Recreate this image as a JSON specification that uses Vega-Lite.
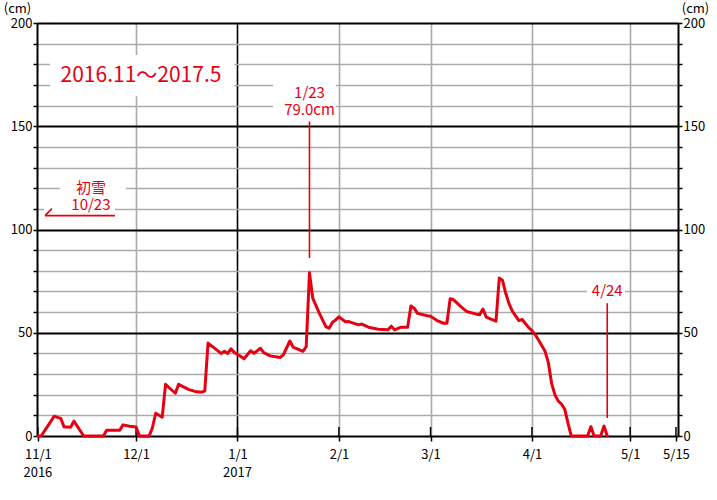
{
  "$schema": "https://vega.github.io/schema/vega-lite/v6.json",
  "width": 641,
  "height": 413,
  "autosize": {"type": "none"},
  "padding": {"left": 37, "top": 23, "right": 39, "bottom": 64},
  "background": "white",
  "config": {
    "view": {"stroke": null},
    "font": "Noto Sans CJK JP",
    "axis": {"labelFont": "Noto Sans CJK JP", "titleFont": "Noto Sans CJK JP", "labelColor": "#000", "titleColor": "#000"}
  },
  "datasets": {
    "snow": [
      {"date": "2016-11-01", "cm": 0}, {"date": "2016-11-02", "cm": 0}, {"date": "2016-11-04", "cm": 4.8},
      {"date": "2016-11-06", "cm": 9.6}, {"date": "2016-11-07", "cm": 9}, {"date": "2016-11-08", "cm": 8.5},
      {"date": "2016-11-09", "cm": 4.4}, {"date": "2016-11-10", "cm": 4.3}, {"date": "2016-11-11", "cm": 4.2},
      {"date": "2016-11-12", "cm": 7.2}, {"date": "2016-11-15", "cm": 0}, {"date": "2016-11-21", "cm": 0},
      {"date": "2016-11-22", "cm": 2.8}, {"date": "2016-11-26", "cm": 2.8}, {"date": "2016-11-27", "cm": 5.4},
      {"date": "2016-11-29", "cm": 4.7}, {"date": "2016-12-01", "cm": 4.4}, {"date": "2016-12-02", "cm": 0},
      {"date": "2016-12-05", "cm": 0}, {"date": "2016-12-06", "cm": 4}, {"date": "2016-12-07", "cm": 11},
      {"date": "2016-12-09", "cm": 9.1}, {"date": "2016-12-10", "cm": 25}, {"date": "2016-12-13", "cm": 20.7},
      {"date": "2016-12-14", "cm": 25}, {"date": "2016-12-17", "cm": 22.6}, {"date": "2016-12-19", "cm": 21.6},
      {"date": "2016-12-21", "cm": 21.2}, {"date": "2016-12-22", "cm": 21.8}, {"date": "2016-12-23", "cm": 45},
      {"date": "2016-12-27", "cm": 40}, {"date": "2016-12-28", "cm": 41}, {"date": "2016-12-29", "cm": 40},
      {"date": "2016-12-30", "cm": 42.2}, {"date": "2016-12-31", "cm": 40.5}, {"date": "2017-01-01", "cm": 39.5},
      {"date": "2017-01-02", "cm": 38.5}, {"date": "2017-01-03", "cm": 37.4}, {"date": "2017-01-05", "cm": 41.3},
      {"date": "2017-01-06", "cm": 40}, {"date": "2017-01-08", "cm": 42.5}, {"date": "2017-01-09", "cm": 40.4},
      {"date": "2017-01-11", "cm": 38.8}, {"date": "2017-01-14", "cm": 38}, {"date": "2017-01-15", "cm": 39.3},
      {"date": "2017-01-17", "cm": 46}, {"date": "2017-01-18", "cm": 43}, {"date": "2017-01-21", "cm": 41},
      {"date": "2017-01-22", "cm": 43.3}, {"date": "2017-01-23", "cm": 79}, {"date": "2017-01-24", "cm": 66.8},
      {"date": "2017-01-26", "cm": 59.5}, {"date": "2017-01-28", "cm": 53}, {"date": "2017-01-29", "cm": 52.2},
      {"date": "2017-01-30", "cm": 55}, {"date": "2017-01-31", "cm": 56.2}, {"date": "2017-02-01", "cm": 57.7},
      {"date": "2017-02-03", "cm": 55.3}, {"date": "2017-02-04", "cm": 55.4}, {"date": "2017-02-07", "cm": 53.8},
      {"date": "2017-02-08", "cm": 54.2}, {"date": "2017-02-10", "cm": 52.7}, {"date": "2017-02-13", "cm": 51.7},
      {"date": "2017-02-16", "cm": 51.4}, {"date": "2017-02-17", "cm": 53.2}, {"date": "2017-02-18", "cm": 51.4},
      {"date": "2017-02-20", "cm": 52.7}, {"date": "2017-02-22", "cm": 52.7}, {"date": "2017-02-23", "cm": 63},
      {"date": "2017-02-24", "cm": 61.9}, {"date": "2017-02-25", "cm": 59.4}, {"date": "2017-02-28", "cm": 58.2},
      {"date": "2017-03-01", "cm": 58}, {"date": "2017-03-03", "cm": 55.9}, {"date": "2017-03-05", "cm": 54.6},
      {"date": "2017-03-06", "cm": 54.6}, {"date": "2017-03-07", "cm": 66.5}, {"date": "2017-03-08", "cm": 66},
      {"date": "2017-03-10", "cm": 63}, {"date": "2017-03-12", "cm": 60.3}, {"date": "2017-03-15", "cm": 59},
      {"date": "2017-03-16", "cm": 58.7}, {"date": "2017-03-17", "cm": 61.5}, {"date": "2017-03-18", "cm": 57.6},
      {"date": "2017-03-21", "cm": 55.6}, {"date": "2017-03-22", "cm": 76.5}, {"date": "2017-03-23", "cm": 75.3},
      {"date": "2017-03-24", "cm": 69}, {"date": "2017-03-25", "cm": 64}, {"date": "2017-03-26", "cm": 60.5},
      {"date": "2017-03-28", "cm": 55.9}, {"date": "2017-03-29", "cm": 56.4}, {"date": "2017-03-31", "cm": 52.5},
      {"date": "2017-04-01", "cm": 51}, {"date": "2017-04-02", "cm": 49}, {"date": "2017-04-03", "cm": 46.5},
      {"date": "2017-04-05", "cm": 41}, {"date": "2017-04-06", "cm": 35.5}, {"date": "2017-04-07", "cm": 25.5},
      {"date": "2017-04-08", "cm": 20}, {"date": "2017-04-09", "cm": 17}, {"date": "2017-04-10", "cm": 15.5},
      {"date": "2017-04-11", "cm": 13}, {"date": "2017-04-12", "cm": 6.2}, {"date": "2017-04-13", "cm": 0},
      {"date": "2017-04-18", "cm": 0}, {"date": "2017-04-19", "cm": 4.5}, {"date": "2017-04-20", "cm": 0},
      {"date": "2017-04-22", "cm": 0}, {"date": "2017-04-23", "cm": 4.8}, {"date": "2017-04-24", "cm": 0}
    ],
    "boxes": [
      {"start": "2016-11-04T17:00:00Z", "end": "2016-12-31T00:00:00Z", "lo": 164.5, "hi": 184.5},
      {"start": "2016-11-07T18:00:00Z", "end": "2016-11-27T22:00:00Z", "lo": 116.5, "hi": 127.5},
      {"start": "2016-11-02T21:00:00Z", "end": "2016-11-24T13:00:00Z", "lo": 108.3, "hi": 116.5},
      {"start": "2017-01-11T20:00:00Z", "end": "2017-01-31T02:00:00Z", "lo": 153, "hi": 172.5},
      {"start": "2017-04-17T19:00:00Z", "end": "2017-04-29T10:00:00Z", "lo": 66, "hi": 75}
    ],
    "ticks": [
      {"date": "2016-11-01"}, {"date": "2016-12-01"}, {"date": "2017-01-01"}, {"date": "2017-02-01"},
      {"date": "2017-03-01"}, {"date": "2017-04-01"}, {"date": "2017-05-01"}, {"date": "2017-05-15"}
    ],
    "years": [
      {"date": "2016-11-01", "cm": -17.9, "label": "2016"},
      {"date": "2017-01-01", "cm": -17.9, "label": "2017"}
    ],
    "leaders": [
      {"x1": "2017-01-23", "x2": "2017-01-23", "y1": 86.2, "y2": 152.3},
      {"x1": "2017-04-24", "x2": "2017-04-24", "y1": 8.7, "y2": 64.3},
      {"x1": "2016-11-03T04:00:00Z", "x2": "2016-11-24T13:00:00Z", "y1": 106.7, "y2": 106.7},
      {"x1": "2016-11-03T04:00:00Z", "x2": "2016-11-05T07:00:00Z", "y1": 106.7, "y2": 110.1}
    ],
    "labels": [
      {"date": "2016-11-17T05:00:00Z", "cm": 120, "label": "初雪"},
      {"date": "2016-11-17T05:00:00Z", "cm": 112, "label": "10/23"},
      {"date": "2017-01-23", "cm": 166, "label": "1/23"},
      {"date": "2017-01-23", "cm": 157.7, "label": "79.0cm"},
      {"date": "2017-04-24", "cm": 70, "label": "4/24"}
    ],
    "title": [
      {"date": "2016-12-02T12:00:00Z", "cm": 174.5, "label": "2016.11～2017.5"}
    ]
  },
  "layer": [
    {
      "data": {"name": "boxes"},
      "mark": {"type": "rect", "color": "white"},
      "encoding": {
        "x": {
          "field": "start", "type": "temporal", "title": null, "axis": null,
          "scale": {"type": "utc", "nice": false,
            "domain": [{"year": 2016, "month": 10, "date": 31, "hours": 17, "minutes": 24, "utc": true},
                       {"year": 2017, "month": 5, "date": 15, "hours": 15, "utc": true}]}
        },
        "x2": {"field": "end"},
        "y": {
          "field": "lo", "type": "quantitative", "title": "(cm)",
          "scale": {"domain": [0, 200], "nice": false, "zero": false},
          "axis": {
            "orient": "left",
            "values": [0, 10, 20, 30, 40, 50, 60, 70, 80, 90, 100, 110, 120, 130, 140, 150, 160, 170, 180, 190, 200],
            "grid": true,
            "gridColor": {"condition": {"test": "datum.value % 50 == 0", "value": "#000000"}, "value": "#aaaaaa"},
            "gridWidth": {"condition": {"test": "datum.value % 50 == 0", "value": 2}, "value": 1.5},
            "domain": true, "domainColor": "#000000", "domainWidth": 2,
            "tickSize": 4, "tickColor": "#000000", "tickWidth": 1.5,
            "labelExpr": "datum.value % 50 == 0 ? datum.label : ''",
            "labelFontSize": 13, "labelPadding": 1,
            "titleAngle": 0, "titleX": -20, "titleY": -15, "titleAlign": "center", "titleBaseline": "middle",
            "titleFontWeight": "normal", "titleFontSize": 13
          }
        },
        "y2": {"field": "hi"}
      }
    },
    {
      "data": {"name": "ticks"},
      "mark": {"type": "rule", "color": "#000000", "strokeWidth": 1.5},
      "encoding": {
        "x": {"field": "date", "type": "temporal", "title": null,
          "scale": {"type": "utc", "nice": false,
            "domain": [{"year": 2016, "month": 10, "date": 31, "hours": 17, "minutes": 24, "utc": true},
                       {"year": 2017, "month": 5, "date": 15, "hours": 15, "utc": true}]},
          "axis": {
            "orient": "bottom",
            "values": [1477958400000, 1480550400000, 1483228800000, 1485907200000, 1488326400000, 1491004800000, 1493596800000, 1494806400000],
            "grid": true,
            "gridColor": {"condition": {"test": "utcmonth(datum.value) == 0", "value": "#000000"}, "value": "#aaaaaa"},
            "gridWidth": {"condition": {"test": "utcmonth(datum.value) == 10 || utcdate(datum.value) == 15", "value": 0}, "value": 1.6},
            "domain": false,
            "tickSize": 5, "tickColor": "#000000", "tickWidth": 1.5,
            "labelExpr": "(utcmonth(datum.value) + 1) + '/' + utcdate(datum.value)",
            "labelFontSize": 13, "labelPadding": 7, "labelFlush": false, "labelOverlap": false
          }
        },
        "y": {"datum": 0, "type": "quantitative", "axis": null, "scale": {"domain": [0, 200], "nice": false, "zero": false}},
        "y2": {"datum": 4.4}
      }
    },
    {
      "data": {"name": "years"},
      "mark": {"type": "text", "color": "#000000", "fontSize": 13, "align": "center", "baseline": "middle", "font": "Noto Sans CJK JP"},
      "encoding": {
        "x": {"field": "date", "type": "temporal", "title": null, "axis": null,
          "scale": {"type": "utc", "nice": false,
            "domain": [{"year": 2016, "month": 10, "date": 31, "hours": 17, "minutes": 24, "utc": true},
                       {"year": 2017, "month": 5, "date": 15, "hours": 15, "utc": true}]}},
        "y": {"field": "cm", "type": "quantitative", "title": null, "axis": null, "scale": {"domain": [0, 200], "nice": false, "zero": false}},
        "text": {"field": "label"}
      }
    },
    {
      "data": {"name": "leaders"},
      "mark": {"type": "rule", "color": "#e60012", "strokeWidth": 1.6},
      "encoding": {
        "x": {"field": "x1", "type": "temporal", "title": null, "axis": null,
          "scale": {"type": "utc", "nice": false,
            "domain": [{"year": 2016, "month": 10, "date": 31, "hours": 17, "minutes": 24, "utc": true},
                       {"year": 2017, "month": 5, "date": 15, "hours": 15, "utc": true}]}},
        "x2": {"field": "x2"},
        "y": {"field": "y1", "type": "quantitative", "title": null, "axis": null, "scale": {"domain": [0, 200], "nice": false, "zero": false}},
        "y2": {"field": "y2"}
      }
    },
    {
      "data": {"name": "labels"},
      "mark": {"type": "text", "color": "#e60012", "fontSize": 15, "align": "center", "baseline": "middle", "font": "Noto Sans CJK JP"},
      "encoding": {
        "x": {"field": "date", "type": "temporal", "title": null, "axis": null,
          "scale": {"type": "utc", "nice": false,
            "domain": [{"year": 2016, "month": 10, "date": 31, "hours": 17, "minutes": 24, "utc": true},
                       {"year": 2017, "month": 5, "date": 15, "hours": 15, "utc": true}]}},
        "y": {"field": "cm", "type": "quantitative", "title": null, "axis": null, "scale": {"domain": [0, 200], "nice": false, "zero": false}},
        "text": {"field": "label"}
      }
    },
    {
      "data": {"name": "title"},
      "mark": {"type": "text", "color": "#e60012", "fontSize": 21, "align": "center", "baseline": "middle", "font": "Noto Sans CJK JP"},
      "encoding": {
        "x": {"field": "date", "type": "temporal", "title": null, "axis": null,
          "scale": {"type": "utc", "nice": false,
            "domain": [{"year": 2016, "month": 10, "date": 31, "hours": 17, "minutes": 24, "utc": true},
                       {"year": 2017, "month": 5, "date": 15, "hours": 15, "utc": true}]}},
        "y": {"field": "cm", "type": "quantitative", "title": null, "axis": null, "scale": {"domain": [0, 200], "nice": false, "zero": false}},
        "text": {"field": "label"}
      }
    },
    {
      "data": {"name": "snow"},
      "mark": {"type": "line", "color": "#e60012", "strokeWidth": 3, "strokeJoin": "round", "strokeCap": "round"},
      "encoding": {
        "x": {"field": "date", "type": "temporal", "title": null, "axis": null,
          "scale": {"type": "utc", "nice": false,
            "domain": [{"year": 2016, "month": 10, "date": 31, "hours": 17, "minutes": 24, "utc": true},
                       {"year": 2017, "month": 5, "date": 15, "hours": 15, "utc": true}]}},
        "y": {
          "field": "cm", "type": "quantitative", "title": "(cm)",
          "scale": {"domain": [0, 200], "nice": false, "zero": false},
          "axis": {
            "orient": "right",
            "values": [0, 10, 20, 30, 40, 50, 60, 70, 80, 90, 100, 110, 120, 130, 140, 150, 160, 170, 180, 190, 200],
            "grid": false,
            "domain": true, "domainColor": "#000000", "domainWidth": 2,
            "tickSize": 4, "tickColor": "#000000", "tickWidth": 1.5,
            "labelExpr": "datum.value % 50 == 0 ? datum.label : ''",
            "labelFontSize": 13, "labelPadding": 1,
            "titleAngle": 0, "titleX": 17, "titleY": -15, "titleAlign": "center", "titleBaseline": "middle",
            "titleFontWeight": "normal", "titleFontSize": 13
          }
        }
      }
    }
  ],
  "resolve": {"axis": {"x": "independent", "y": "independent"}}
}
